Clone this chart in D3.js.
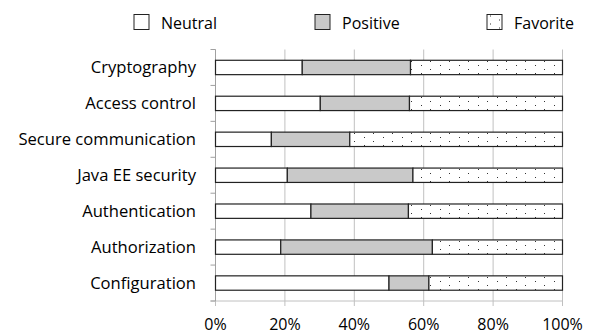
<!DOCTYPE html>
<html>
<head>
<meta charset="utf-8">
<script src="https://cdn.jsdelivr.net/npm/d3@7"></script>
<style>
  body { margin: 0; background: #fff; }
  text { font-family: "Open Sans", Lato, sans-serif; fill: #000; }
</style>
</head>
<body>
<div id="chart"></div>
<script>
// categories and shares (percent of answers)
var categories = ["Cryptography", "Access control", "Secure communication",
                  "Java EE security", "Authentication", "Authorization", "Configuration"];
var neutral  = [25.0, 30.2, 16.1, 20.7, 27.5, 18.8, 50.0];
var positive = [31.2, 25.7, 22.6, 36.2, 28.1, 43.7, 11.5];
var favorite = [43.8, 44.1, 61.3, 43.1, 44.4, 37.5, 38.5];
var seriesNames = ["Neutral", "Positive", "Favorite"];
var tickValues = [0, 20, 40, 60, 80, 100];

var width = 592, height = 335;
var margin = { top: 49.5, right: 29.5, bottom: 34, left: 215.5 };

var svg = d3.select("#chart").append("svg")
    .attr("width", width)
    .attr("height", height);

// dotted fill for "Favorite"
var defs = svg.append("defs");
var pat = defs.append("pattern")
    .attr("id", "dots")
    .attr("patternUnits", "userSpaceOnUse")
    .attr("width", 19)
    .attr("height", 8);
pat.append("rect").attr("width", 19).attr("height", 8).attr("fill", "#fff");
pat.append("rect").attr("x", 3).attr("y", 1).attr("width", 1).attr("height", 1).attr("fill", "#333");
pat.append("rect").attr("x", 12).attr("y", 5).attr("width", 1).attr("height", 1).attr("fill", "#333");

var fills = { "Neutral": "#fff", "Positive": "#c9c9c9", "Favorite": "url(#dots)" };

var rows = categories.map(function(c, i) {
    return { cat: c, Neutral: neutral[i], Positive: positive[i], Favorite: favorite[i] };
});

var x = d3.scaleLinear()
    .domain([0, 100])
    .range([margin.left, width - margin.right]);

var axisY = 301;
var y = d3.scaleBand()
    .domain(categories)
    .range([margin.top, axisY])
    .paddingInner(0.6)
    .paddingOuter(0.3);

// vertical gridlines (they also run below the axis as tick marks)
svg.append("g")
    .selectAll("line")
    .data(tickValues)
    .enter().append("line")
    .attr("x1", d => x(d)).attr("x2", d => x(d))
    .attr("y1", margin.top).attr("y2", axisY + 5)
    .attr("stroke", "#c0c0c0");

// horizontal axis line
svg.append("line")
    .attr("x1", margin.left - 5).attr("x2", x(100))
    .attr("y1", axisY).attr("y2", axisY)
    .attr("stroke", "#c0c0c0");

// category axis, ticks sit between the bands
var bounds = d3.range(categories.length + 1).map(function(i) {
    return margin.top + i * (axisY - margin.top) / categories.length;
});
svg.append("line")
    .attr("x1", margin.left).attr("x2", margin.left)
    .attr("y1", margin.top).attr("y2", axisY)
    .attr("stroke", "#a0a0a0");
svg.append("g")
    .selectAll("line")
    .data(bounds)
    .enter().append("line")
    .attr("x1", margin.left - 5).attr("x2", margin.left)
    .attr("y1", d => d).attr("y2", d => d)
    .attr("stroke", "#a0a0a0");

// stacked bars
var layers = d3.stack().keys(seriesNames)(rows);

svg.append("g")
    .selectAll("g")
    .data(layers)
    .enter().append("g")
    .attr("fill", d => fills[d.key])
    .selectAll("rect")
    .data(d => d)
    .enter().append("rect")
    .attr("x", d => x(d[0]))
    .attr("y", d => y(d.data.cat))
    .attr("width", d => x(d[1]) - x(d[0]))
    .attr("height", y.bandwidth())
    .attr("stroke", "#222")
    .attr("stroke-width", 1.2);

// category labels
svg.append("g")
    .selectAll("text")
    .data(categories)
    .enter().append("text")
    .attr("x", 196)
    .attr("y", d => y(d) + y.bandwidth() / 2)
    .attr("dy", "0.36em")
    .attr("text-anchor", "end")
    .style("font-size", "16.6px")
    .text(d => d);

// percent labels
svg.append("g")
    .selectAll("text")
    .data(tickValues)
    .enter().append("text")
    .attr("x", d => x(d))
    .attr("y", 330)
    .attr("text-anchor", "middle")
    .style("font-size", "16px")
    .text(d => d + "%");

// legend
var legendX = [134, 315, 487];
var legend = svg.append("g")
    .selectAll("g")
    .data(seriesNames)
    .enter().append("g")
    .attr("transform", function(d, i) { return "translate(" + legendX[i] + ",14.5)"; });

legend.append("rect")
    .attr("width", 15)
    .attr("height", 15)
    .attr("fill", d => fills[d])
    .attr("stroke", "#222");

legend.append("text")
    .attr("x", 27)
    .attr("y", 14.5)
    .style("font-size", "16px")
    .text(d => d);
</script>
</body>
</html>
